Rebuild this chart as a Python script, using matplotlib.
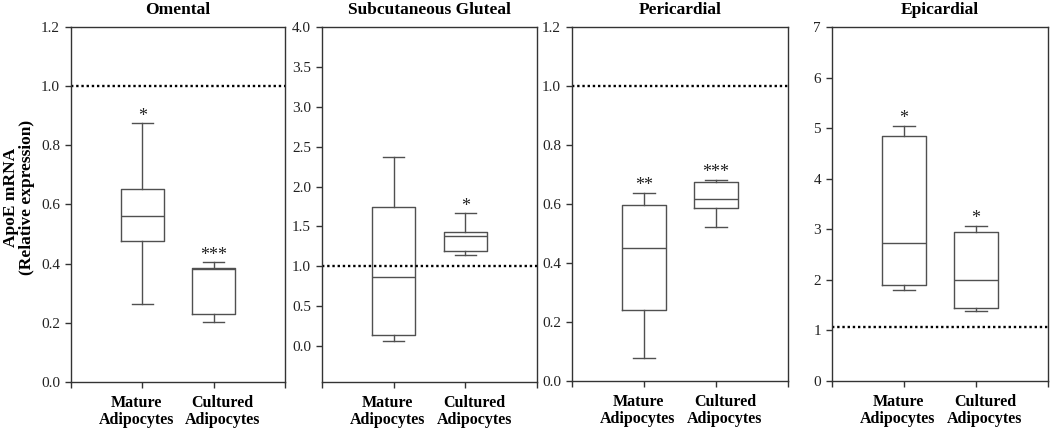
import matplotlib
matplotlib.use("Agg")
import matplotlib.pyplot as plt
import matplotlib.transforms as mtransforms

plt.rcParams['font.family'] = ['Liberation Serif', 'DejaVu Serif']

# ---- data ----
titles = ["Omental", "Subcutaneous Gluteal", "Pericardial", "Epicardial"]
groups = ["Mature\nAdipocytes", "Cultured\nAdipocytes"]

whislo = [[0.264, 0.204], [0.067, 1.142], [0.078, 0.523], [1.804, 1.389]]
q1     = [[0.477, 0.231], [0.138, 1.190], [0.239, 0.586], [1.896, 1.442]]
med    = [[0.561, 0.383], [0.871, 1.375], [0.450, 0.618], [2.730, 1.990]]
q3     = [[0.651, 0.386], [1.746, 1.429], [0.595, 0.674], [4.850, 2.956]]
whishi = [[0.874, 0.404], [2.375, 1.667], [0.638, 0.683], [5.050, 3.070]]
stars  = [["*", "***"], ["", "*"], ["**", "***"], ["*", "*"]]
ref_line = [1.0, 1.0, 1.0, 1.06]
ylims = [(0, 1.2), (-0.45, 4.0), (0, 1.2), (0, 7)]
yticks = [[0, 0.2, 0.4, 0.6, 0.8, 1.0, 1.2],
          [0, 0.5, 1.0, 1.5, 2.0, 2.5, 3.0, 3.5, 4.0],
          [0, 0.2, 0.4, 0.6, 0.8, 1.0, 1.2],
          [0, 1, 2, 3, 4, 5, 6, 7]]
ytick_fmt = ["{:.1f}", "{:.1f}", "{:.1f}", "{:.0f}"]
ylabel = "ApoE mRNA\n(Relative expression)"

# ---- layout (pixels) ----
W, H = 1050, 430
panels_px = [(71, 285, 27, 382), (322, 537, 27, 382),
             (572, 788, 27, 381), (832, 1048, 27, 381)]
label_shift_px = [-6, 9]

fig = plt.figure(figsize=(W / 100, H / 100), dpi=100)
fig.patch.set_facecolor("white")

box_col = "#505050"
spine_col = "#333333"

for i, (l, r, t, b) in enumerate(panels_px):
    ax = fig.add_axes([l / W, (H - b) / H, (r - l) / W, (b - t) / H])
    stats = []
    for j in range(2):
        stats.append(dict(med=med[i][j], q1=q1[i][j], q3=q3[i][j],
                          whislo=whislo[i][j], whishi=whishi[i][j], fliers=[]))
    lp = dict(color=box_col, linewidth=1.0)
    ax.bxp(stats, positions=[1, 2], widths=0.6, showfliers=False,
           boxprops=lp, medianprops=lp, whiskerprops=lp, capprops=lp,
           capwidths=0.3, manage_ticks=False)
    ax.axhline(ref_line[i], color="black", linewidth=1.7,
               linestyle=(0, (1, 1.2)), dash_capstyle="butt")
    for j in range(2):
        if stars[i][j]:
            ax.annotate(stars[i][j], xy=(j + 1, whishi[i][j]),
                        xytext=(0, -1), textcoords="offset points",
                        ha="center", va="bottom", fontsize=13, color="#222222")
    ax.set_xlim(0, 3)
    ax.set_ylim(*ylims[i])
    ax.set_xticks([0, 1, 2, 3])
    ax.set_xticklabels(["", "", "", ""])
    trans = ax.get_xaxis_transform()
    for j in range(2):
        off = mtransforms.ScaledTranslation(label_shift_px[j] / 100, -13 / 100,
                                            fig.dpi_scale_trans)
        ax.text(j + 1, 0, groups[j], transform=trans + off, ha="center",
                va="top", fontsize=11.5, fontweight="bold", linespacing=1.05,
                multialignment="center")
    ax.set_yticks(yticks[i])
    ax.set_yticklabels([ytick_fmt[i].format(v) for v in yticks[i]], fontsize=11)
    ax.tick_params(axis="both", direction="out", length=4, width=1,
                   color=spine_col, colors="#222222")
    ax.tick_params(axis="y", pad=4)
    for s in ax.spines.values():
        s.set_color(spine_col)
        s.set_linewidth(1.0)
    ax.set_title(titles[i], fontsize=12.5, fontweight="bold", pad=9)

fig.text(19 / W, 1 - 197 / H, ylabel, rotation=90, ha="center", va="center",
         fontsize=12.5, fontweight="bold", multialignment="center", linespacing=1.0)

fig.savefig("out.png", dpi=100, facecolor="white")
